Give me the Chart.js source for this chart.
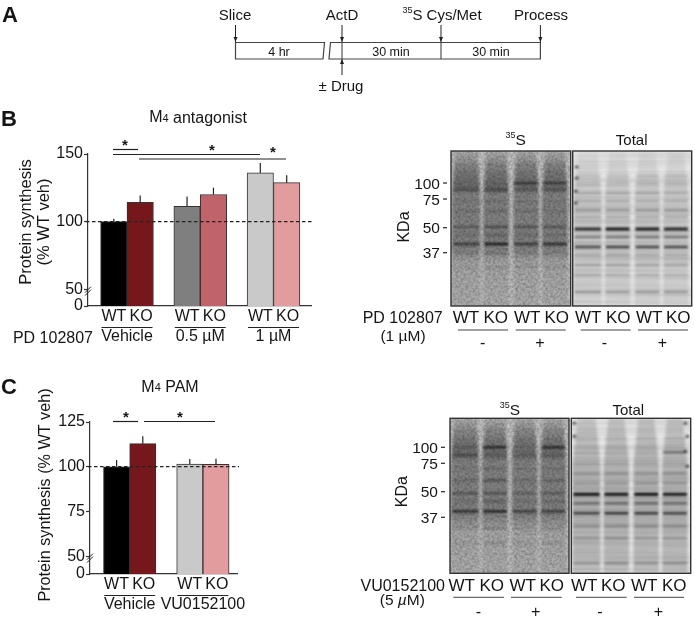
<!DOCTYPE html>
<html>
<head>
<meta charset="utf-8">
<script src="https://cdn.jsdelivr.net/npm/chart.js@4"></script>
<style>
html, body { margin: 0; padding: 0; background: #fff; }
#page { position: relative; width: 695px; height: 619px; overflow: hidden; font-family: "Liberation Sans", Arial, sans-serif; filter: blur(0.35px); }
#page svg, #page canvas { position: absolute; left: 0; }
#page svg { top: 0; }
text { font-family: "Liberation Sans", Arial, sans-serif; fill: #151515; }
</style>
</head>
<body>
<div id="page">
    <svg id="art" width="695" height="619"></svg>
    <canvas id="chartB" width="340" height="350" style="top:0"></canvas>
    <canvas id="chartC" width="340" height="269" style="top:350px"></canvas>
</div>
<script>
// panel B values, % of WT vehicle
const groupsB = ['Vehicle', '0.5 µM', '1 µM'];
const wtB = [100, 111.3, 136];
const koB = [114.3, 120, 128.8];
const wtErrB = [2, 7.2, 7.3];
const koErrB = [4.9, 5.1, 5.4];
const wtColorsB = ['#000000', '#7f7f7f', '#c9c9c9'];
const koColorsB = ['#76181b', '#c1636a', '#e39c9d'];
const yTicksB = [37.5, 50, 100, 150];

// panel C values
const groupsC = ['Vehicle', 'VU0152100'];
const wtC = [100, 101.5];
const koC = [112.9, 101.3];
const wtErrC = [3.7, 2.8];
const koErrC = [4.1, 3.2];
const wtColorsC = ['#000000', '#c9c9c9'];
const koColorsC = ['#76181b', '#e39c9d'];
const yTicksC = [40, 50, 75, 100, 125];

const INK = '#222';

function makeBarChart(id, o) {
    const toPoints = values => values.map((v, i) => ({ x: i + 1, y: v }));
    const lanePlugin = {
        id: 'annotations',
        afterDatasetsDraw(chart) {
            const { ctx, scales: { x, y } } = chart;
            ctx.save();
            ctx.translate(0, -o.top);
            ctx.strokeStyle = INK;

            // error bars, upper side only
            ctx.lineWidth = 1.2;
            [[o.wt, o.wtErr], [o.ko, o.koErr]].forEach(([vals, errs], ds) => {
                const meta = chart.getDatasetMeta(ds);
                vals.forEach((v, i) => {
                    const px = meta.data[i].x;
                    ctx.beginPath();
                    ctx.moveTo(px, y.getPixelForValue(v) + o.top);
                    ctx.lineTo(px, y.getPixelForValue(v + errs[i]) + o.top);
                    ctx.stroke();
                });
            });

            // reference line at 100
            const y100 = y.getPixelForValue(100) + o.top;
            ctx.lineWidth = 1.2;
            ctx.setLineDash([3.5, 2.5]);
            ctx.beginPath();
            ctx.moveTo(x.left - 2, y100);
            ctx.lineTo(x.right + 2, y100);
            ctx.stroke();
            ctx.setLineDash([]);

            // axis break
            const yBreak = y.getPixelForValue(50) + o.top + 2;
            ctx.lineWidth = 1;
            [-1.5, 1.5].forEach(d => {
                ctx.beginPath();
                ctx.moveTo(x.left - 3, yBreak + 3 + d);
                ctx.lineTo(x.left + 3, yBreak - 3 + d);
                ctx.stroke();
            });

            // line under each WT/KO pair
            o.groups.forEach((g, i) => {
                const cx = x.getPixelForValue(i + 1);
                ctx.beginPath();
                ctx.moveTo(cx - 25.5, y.bottom + o.top + 21.5);
                ctx.lineTo(cx + 25.5, y.bottom + o.top + 21.5);
                ctx.stroke();
            });

            // significance lines and stars
            ctx.lineWidth = 1.2;
            ctx.fillStyle = '#151515';
            ctx.textAlign = 'center';
            ctx.textBaseline = 'middle';
            o.sig.forEach(s => {
                ctx.beginPath();
                ctx.moveTo(s.from, s.y);
                ctx.lineTo(s.to, s.y);
                ctx.stroke();
                ctx.font = 'bold 15px "Liberation Sans"';
                ctx.fillText('*', s.star, s.starY);
            });

            // y axis title
            ctx.font = o.titleFont;
            o.yTitle.forEach(t => {
                ctx.save();
                ctx.translate(t.x, t.y);
                ctx.rotate(-Math.PI / 2);
                ctx.fillText(t.text, 0, 0);
                ctx.restore();
            });
            ctx.restore();
        }
    };

    return new Chart(document.getElementById(id), {
        type: 'bar',
        data: {
            datasets: [
                { label: 'WT', data: toPoints(o.wt), backgroundColor: o.wtColors },
                { label: 'KO', data: toPoints(o.ko), backgroundColor: o.koColors }
            ]
        },
        options: {
            responsive: false,
            animation: false,
            devicePixelRatio: 1,
            barThickness: o.barWidth,
            borderColor: '#333',
            borderWidth: 1,
            layout: { padding: { top: o.areaTop, right: o.areaRight, left: 0, bottom: 0 } },
            plugins: { legend: { display: false }, tooltip: { enabled: false } },
            scales: {
                x: {
                    type: 'linear',
                    offset: false,
                    min: o.xMin,
                    max: o.xMax,
                    afterBuildTicks: axis => { axis.ticks = o.groups.map((g, i) => ({ value: i + 1 })); },
                    afterFit: axis => { axis.height = o.xHeight; },
                    grid: { display: false, drawTicks: false },
                    border: { color: '#333', width: 1.2 },
                    ticks: {
                        autoSkip: false,
                        maxRotation: 0,
                        padding: 1,
                        color: '#151515',
                        font: { family: '"Liberation Sans"', size: 16, lineHeight: 1.25 },
                        callback: v => ['WT\u2009KO', o.groups[v - 1]]
                    }
                },
                y: {
                    min: o.yTicks[0],
                    max: o.yTicks[o.yTicks.length - 1],
                    afterBuildTicks: axis => { axis.ticks = o.yTicks.map(v => ({ value: v })); },
                    afterFit: axis => { axis.width = o.axisX; },
                    grid: { drawOnChartArea: false, tickLength: 4, tickColor: '#333', tickWidth: 1.2 },
                    border: { color: '#333', width: 1.2 },
                    ticks: {
                        autoSkip: false,
                        padding: 1,
                        color: '#151515',
                        font: { family: '"Liberation Sans"', size: 16 },
                        callback: v => (v === o.yTicks[0] ? '0' : v)
                    }
                }
            }
        },
        plugins: [lanePlugin]
    });
}

makeBarChart('chartB', {
    top: 0, areaTop: 154, areaRight: 29, xHeight: 44, axisX: 88, barWidth: 26.4,
    xMin: 0.4676, xMax: 3.512,
    groups: groupsB, wt: wtB, ko: koB, wtErr: wtErrB, koErr: koErrB,
    wtColors: wtColorsB, koColors: koColorsB, yTicks: yTicksB,
    titleFont: '16.5px "Liberation Sans"',
    yTitle: [{ text: 'Protein synthesis', x: 26, y: 222 }, { text: '(% WT veh)', x: 44, y: 222 }],
    sig: [
        { from: 113, to: 138, y: 149.5, star: 125, starY: 146 },
        { from: 113, to: 260, y: 154.5, star: 212, starY: 150.5 },
        { from: 139, to: 286, y: 159, star: 273, starY: 152.5 }
    ]
});

makeBarChart('chartC', {
    top: 350, areaTop: 72, areaRight: 103, xHeight: 45, axisX: 90, barWidth: 26.2,
    xMin: 0.4577, xMax: 2.466,
    groups: groupsC, wt: wtC, ko: koC, wtErr: wtErrC, koErr: koErrC,
    wtColors: wtColorsC, koColors: koColorsC, yTicks: yTicksC,
    titleFont: '16.2px "Liberation Sans"',
    yTitle: [{ text: 'Protein synthesis (% WT veh)', x: 46, y: 495 }],
    sig: [
        { from: 113, to: 138, y: 421.5, star: 126, starY: 417.5 },
        { from: 144, to: 215, y: 421.5, star: 180, starY: 417.5 }
    ]
});

// ---- everything that is not a chart: schematic, gels, labels ----
const NS = 'http://www.w3.org/2000/svg';
const art = document.getElementById('art');

function el(name, attrs, parent) {
    const node = document.createElementNS(NS, name);
    Object.keys(attrs).forEach(k => node.setAttribute(k, attrs[k]));
    (parent || art).appendChild(node);
    return node;
}

function label(str, x, y, size, anchor, extra) {
    const t = el('text', Object.assign({
        x: x, y: y, 'font-size': size, 'text-anchor': anchor || 'middle', 'dominant-baseline': 'central'
    }, extra || {}));
    t.textContent = str;
    return t;
}

function line(x1, y1, x2, y2, width, color) {
    return el('line', { x1, y1, x2, y2, stroke: color || '#333', 'stroke-width': width || 1 });
}

function arrow(x, y1, y2) {
    line(x, y1, x, y2, 1, '#222');
    const d = y2 > y1 ? -5 : 5;
    el('path', { d: `M${x - 2} ${y2 + d} L${x} ${y2} L${x + 2} ${y2 + d} Z`, fill: '#222' });
}

// shared svg defs
const defs = el('defs', {});
defs.innerHTML = `
  <filter id="soft" x="-10%" y="-10%" width="120%" height="120%"><feGaussianBlur stdDeviation="0.85"/></filter>
  <filter id="softer"><feGaussianBlur stdDeviation="1.8"/></filter>
  <filter id="grain" x="0" y="0" width="100%" height="100%">
    <feTurbulence type="fractalNoise" baseFrequency="0.4" numOctaves="2" seed="7"/>
    <feColorMatrix values="0 0 0 0 0  0 0 0 0 0  0 0 0 0 0  1.6 0 0 0 -0.55"/>
  </filter>
  <filter id="streak" x="0" y="0" width="100%" height="100%">
    <feTurbulence type="fractalNoise" baseFrequency="0.004 0.22" numOctaves="2" seed="3"/>
    <feColorMatrix values="0 0 0 0 0  0 0 0 0 0  0 0 0 0 0  1.5 0 0 0 -0.5"/>
  </filter>
  <linearGradient id="laneS" x1="0" y1="0" x2="0" y2="1">
    <stop offset="0" stop-color="#000" stop-opacity="0.1"/>
    <stop offset="0.14" stop-color="#000" stop-opacity="0.38"/>
    <stop offset="0.25" stop-color="#000" stop-opacity="0.46"/>
    <stop offset="0.27" stop-color="#000" stop-opacity="0.32"/>
    <stop offset="0.62" stop-color="#000" stop-opacity="0.34"/>
    <stop offset="0.72" stop-color="#000" stop-opacity="0.14"/>
    <stop offset="1" stop-color="#000" stop-opacity="0.1"/>
  </linearGradient>
  <linearGradient id="laneT" x1="0" y1="0" x2="0" y2="1">
    <stop offset="0" stop-color="#000" stop-opacity="0.03"/>
    <stop offset="0.2" stop-color="#000" stop-opacity="0.12"/>
    <stop offset="0.6" stop-color="#000" stop-opacity="0.17"/>
    <stop offset="1" stop-color="#000" stop-opacity="0.08"/>
  </linearGradient>`;

// gel bands: y from top of the blot, strength per lane, thickness
const lanes = [[0.01, 0.245], [0.27, 0.485], [0.52, 0.735], [0.76, 0.975]];
const bandsS_B = [
    [14, [.05, .1, .1, .08], 2], [32, [.05, .1, .6, .55], 2], [39, [.25, .3, .15, .2], 3],
    [50, [.1, .15, .1, .1], 2], [60, [.1, .15, .1, .12], 3], [76, [.3, .42, .38, .36], 2.2],
    [84, [.1, .2, .12, .12], 3], [93, [.55, .82, .6, .7], 2.4], [102, [.1, .15, .1, .1], 3],
    [116, [.06, .1, .08, .08], 3]
];
const bandsT_B = [
    [25, [.12, .1, .12, .1], 2], [33, [.12, .1, .12, .1], 2], [42, [.15, .14, .15, .12], 2],
    [50, [.15, .15, .15, .14], 2], [59, [.32, .3, .32, .3], 1.6], [66, [.15, .15, .15, .15], 2],
    [78, [.8, .92, .9, .85], 2.8], [86, [.35, .4, .38, .38], 2], [96, [.7, .75, .72, .7], 2.2],
    [104, [.12, .15, .12, .12], 2], [114, [.2, .22, .2, .2], 1.6], [124, [.12, .12, .12, .12], 2],
    [141, [.34, .28, .3, .3], 1.8]
];
const bandsS_C = [
    [12, [.08, .08, .05, .06], 2], [29, [.2, .8, .06, .8], 2], [37, [.38, .15, .1, .15], 1.6],
    [50, [.1, .2, .1, .15], 2], [62, [.15, .3, .12, .2], 3], [75, [.4, .42, .25, .35], 2],
    [83, [.1, .22, .1, .14], 3], [93, [.72, .8, .6, .6], 2.2], [110, [.08, .16, .08, .1], 3],
    [125, [.06, .12, .06, .08], 3]
];
const bandsT_C = [
    [20, [.08, .08, .08, .1], 2], [34, [.06, .06, .04, .55], 1.6], [45, [.1, .1, .1, .1], 2],
    [55, [.18, .2, .2, .25], 2], [65, [.2, .2, .22, .2], 2], [76, [.92, .9, .92, .85], 3],
    [85, [.42, .42, .42, .4], 2.2], [95, [.72, .8, .78, .7], 2.2], [108, [.2, .2, .2, .2], 2.2],
    [120, [.15, .2, .15, .18], 2.2], [145, [.22, .25, .2, .22], 2.4]
];

function gel(x, y, w, h, kind, bands, dots, shade) {
    const g = el('g', { transform: `translate(${x} ${y})` });
    const clipId = 'clip' + Math.round(x) + Math.round(y);
    el('rect', { width: w, height: h }, el('clipPath', { id: clipId }, g));
    const inner = el('g', { 'clip-path': `url(#${clipId})` }, g);
    el('rect', { width: w, height: h, fill: kind === 'S' ? '#c0c0c0' : '#e6e6e6' }, inner);

    const smear = el('g', { filter: 'url(#softer)' }, inner);
    lanes.forEach(l => {
        const a = l[0] * w, b = l[1] * w, inset = kind === 'S' ? 3 : 5;
        el('path', {
            d: `M${a + inset} 0 L${b - inset} 0 L${b} ${h * 0.3} L${b} ${h} L${a} ${h} L${a} ${h * 0.3} Z`,
            fill: `url(#lane${kind})`, opacity: 1
        }, smear);
        if (shade) {
            el('path', {
                d: `M${a + inset} 0 L${b - inset} 0 L${b} ${h * 0.3} L${b} ${h} L${a} ${h} L${a} ${h * 0.3} Z`,
                fill: '#000', opacity: shade
            }, smear);
        }
    });

    const bandGroup = el('g', { filter: 'url(#soft)' }, inner);
    bands.forEach(([by, strengths, t]) => {
        lanes.forEach((l, i) => {
            el('rect', {
                x: l[0] * w + 1, y: by - t / 2, width: (l[1] - l[0]) * w - 2, height: t,
                fill: '#000', opacity: strengths[i]
            }, bandGroup);
        });
    });
    (dots || []).forEach(d => {
        el('ellipse', { cx: d[0], cy: d[1], rx: 2, ry: 1.5, fill: '#333', opacity: 0.8 }, bandGroup);
    });

    el('rect', { width: w, height: h, filter: kind === 'S' ? 'url(#grain)' : 'url(#streak)', opacity: kind === 'S' ? 0.3 : 0.12 }, inner);
    el('rect', { width: w, height: h, fill: 'none', stroke: '#333', 'stroke-width': 1.4 }, g);
}

gel(451, 151, 119.7, 155, 'S', bandsS_B);
gel(572.7, 151, 119, 155, 'T', bandsT_B, [[4, 16], [4, 27], [3, 40], [3, 52]]);
gel(450, 418.3, 119, 155, 'S', bandsS_C);
gel(571.3, 418.3, 119.4, 155, 'T', bandsT_C, [[3, 5], [3, 18], [114, 5], [116, 18], [114, 33], [116, 48]], 0.1);

// panel letters
label('A', 2, 14, 22, 'start', { 'font-weight': 'bold', fill: '#000' });
label('B', 1, 118, 22, 'start', { 'font-weight': 'bold', fill: '#000' });
label('C', 1, 386, 22, 'start', { 'font-weight': 'bold', fill: '#000' });

// panel A timeline
el('path', { d: 'M235.5 42.5 H324.5 L323 59 H235.5 Z', fill: 'none', stroke: '#444', 'stroke-width': 1.2 });
el('path', { d: 'M330.5 42.5 H540.4 V59 H329 Z', fill: 'none', stroke: '#444', 'stroke-width': 1.2 });
line(342, 42, 342, 59, 1.1, '#444');
line(441, 42, 441, 59, 1.1, '#444');
arrow(235.5, 25, 42);
arrow(342, 25, 42);
arrow(441, 25, 42);
arrow(540.4, 25, 42);
arrow(342, 75, 59);
label('Slice', 235, 14, 15);
label('ActD', 342, 14, 15);
label('Process', 541, 14, 15);
const s35 = label('', 442, 14, 15);
s35.innerHTML = '<tspan font-size="9" dy="-4">35</tspan><tspan dy="4">S Cys/Met</tspan>';
label('4 hr', 279, 52, 12.5);
label('30 min', 391, 52, 12.5);
label('30 min', 491, 52, 12.5);
label('± Drug', 341, 85, 15);

// bar chart titles
function subTitle(x, y, sub, rest) {
    const t = label('', x, y, 16);
    t.innerHTML = `M<tspan font-size="11" dy="1">${sub}</tspan><tspan dy="-1"> ${rest}</tspan>`;
}
subTitle(198, 116.5, '4', 'antagonist');
subTitle(170, 386, '4', 'PAM');

// gel labels
function s35Label(x, y) {
    const t = label('', x, y, 15);
    t.innerHTML = '<tspan font-size="9" dy="-4">35</tspan><tspan font-size="15.5" dy="4">S</tspan>';
}
s35Label(515.7, 139);
label('Total', 631.7, 139, 15);
s35Label(510, 409);
label('Total', 628.3, 409, 15);

const markersB = [['100', 183], ['75', 199], ['50', 227.7], ['37', 252.7]];
const markersC = [['100', 447.3], ['75', 463.3], ['50', 491.7], ['37', 517.3]];
function markers(list, right) {
    list.forEach(([txt, y]) => {
        label(txt, right - 7, y, 15.5, 'end');
        line(right - 4, y, right, y, 1.2, '#222');
    });
}
markers(markersB, 447);
markers(markersC, 445);

function kda(x, y) {
    label('KDa', 0, 0, 16, 'middle', { transform: `translate(${x} ${y}) rotate(-90)` });
}
kda(403, 227);
kda(401.7, 491.7);

function laneRow(y, xs) {
    xs.forEach((x, i) => label(i % 2 ? 'KO' : 'WT', x, y, 17));
}
laneRow(317.3, [466, 495.7, 527.3, 556.7, 588.3, 618.3, 649.3, 678.3]);
laneRow(585.7, [461.7, 491.7, 522.7, 551.7, 584.3, 613.3, 644.3, 674.3]);

[[458, 508], [515.7, 565.7], [580.7, 630.7], [638, 688]].forEach(p => line(p[0], 330, p[1], 330, 1, '#444'));
[[453.3, 504], [511, 561.7], [576, 626.7], [634, 684]].forEach(p => line(p[0], 597.3, p[1], 597.3, 1, '#444'));

[[482.7, '-'], [540, '+'], [604.3, '-'], [662.3, '+']].forEach(p => label(p[1], p[0], 342.7, 16));
[[478.3, '-'], [535.7, '+'], [600, '-'], [658.3, '+']].forEach(p => label(p[1], p[0], 611, 16));

label('PD 102807', 442.7, 317.3, 16, 'end');
label('(1 µM)', 403, 335, 15.5);
label('PD 102807', 93, 337, 16, 'end');
label('VU0152100', 445, 585.7, 16, 'end');
const dose = label('', 402.3, 599, 15.5);
dose.innerHTML = '(5 <tspan font-style="italic">µ</tspan>M)';
</script>
</body>
</html>
